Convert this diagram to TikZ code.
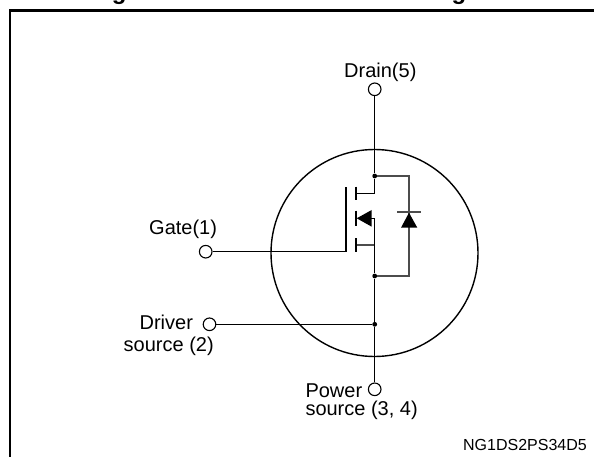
\documentclass[tikz,border=0pt]{standalone}
\usepackage{fontspec}
\setmainfont{Liberation Sans}
\tikzset{
  terminal/.style={circle,draw,fill=white,inner sep=0pt,minimum size=12.6pt,line width=1.1pt},
  junction/.style={circle,fill,inner sep=0pt,minimum size=4.8pt},
  wire/.style={line width=1.2pt},
  paleWire/.style={line width=1.3pt,black!70},
  plate/.style={line width=1.7pt},
  pinlabel/.style={anchor=base west,inner sep=0pt,font=\fontsize{20}{24}\selectfont}
}

\begin{document}
\begin{tikzpicture}[x=1pt,y=-1pt]

    % Define the main vertical lines
    \def\xmid{374.7}    % Drain to source line
    \def\xdiode{409}    % Body diode line
    \def\xgate{346}     % Gate plate
    \def\xchan{356}     % Channel segments

    \useasboundingbox (0,0) rectangle (594,457);

    % -- Title, cut off by the top edge --
    \node[anchor=base,inner sep=0pt,font=\bfseries\fontsize{24}{28}\selectfont] (title) at (300.5,-0.6) {Figure 1. Internal schematic diagram};

    % -- Outer frame, open at right and bottom --
    \coordinate (framebl) at (9.8,457);
    \coordinate (frametl) at (9.8,10.7);
    \coordinate (frametr) at (594,10.7);
    \draw[line width=2.4pt,line join=miter] (framebl) -- (frametl) -- (frametr);

    % -- Package circle --
    \node[circle,draw,inner sep=0pt,minimum size=207pt,line width=1.4pt] (body) at (374.5,253) {};

    % -- Terminals and junctions --
    \node[terminal] (drainpin) at (\xmid,89.3) {};
    \node[terminal] (gatepin) at (205.7,251.7) {};
    \node[terminal] (driverpin) at (209.5,324.3) {};
    \node[terminal] (powerpin) at (\xmid,389.3) {};
    \node[junction] (topjoin) at (\xmid,176) {};
    \node[junction] (botjoin) at (\xmid,276) {};
    \node[junction] (driverjoin) at (\xmid,324.3) {};

    % -- Helper points of the MOSFET --
    \coordinate (gatecorner) at (\xgate,251.7);
    \coordinate (gatetop) at (\xgate,186.7);
    \coordinate (drainstub) at (\xmid,193.3);
    \coordinate (drainchan) at (\xchan,193.3);
    \coordinate (sourcestub) at (\xmid,245);
    \coordinate (sourcechan) at (\xchan,245);
    \coordinate (bulkstub) at (\xmid,218.3);
    \coordinate (bulkbase) at (371,218.3);
    \coordinate (diodetop) at (\xdiode,176);
    \coordinate (diodebot) at (\xdiode,276);

    % -- Wires --
    \draw[wire] (drainpin) -- (topjoin) -- (drainstub) -- (drainchan);
    \draw[paleWire] (sourcechan) -- (sourcestub);
    \draw[wire] (bulkbase) -- (bulkstub) -- (botjoin) -- (driverjoin) -- (powerpin);
    \draw[wire] (gatepin) -- (gatecorner) -- (gatetop);
    \draw[wire] (driverpin) -- (driverjoin);
    \draw[paleWire] (topjoin) -- (diodetop) -- (diodebot) -- (botjoin);

    % -- Channel segments --
    \draw[plate] (\xchan,186.7) -- (\xchan,200);
    \draw[plate] (\xchan,210.7) -- (\xchan,226);
    \draw[plate] (\xchan,238.3) -- (\xchan,251.7);

    % -- Arrow of the channel and body diode --
    \fill (356.7,218.3) -- (371.7,210) -- (371.7,226.7) -- cycle;
    \fill (\xdiode,212.7) -- (401,227.7) -- (417.3,227.7) -- cycle;
    \draw[paleWire] (397,212) -- (421.3,212);

    % -- Labels --
    \node[pinlabel] (drainlabel) at (344,77.3) {Drain(5)};
    \node[pinlabel] (gatelabel) at (149,234) {Gate(1)};
    \node[pinlabel] (driverlabel) at (139.4,329.3) {Driver};
    \node[pinlabel] (driversrc) at (123.5,351.7) {source (2)};
    \node[pinlabel] (powerlabel) at (305.3,397.3) {Power};
    \node[pinlabel] (powersrc) at (305.3,415) {source (3, 4)};
    \node[anchor=base east,inner sep=0pt,font=\fontsize{16}{19}\selectfont] (partcode) at (587,450.7) {NG1DS2PS34D5};

\end{tikzpicture}
\end{document}
